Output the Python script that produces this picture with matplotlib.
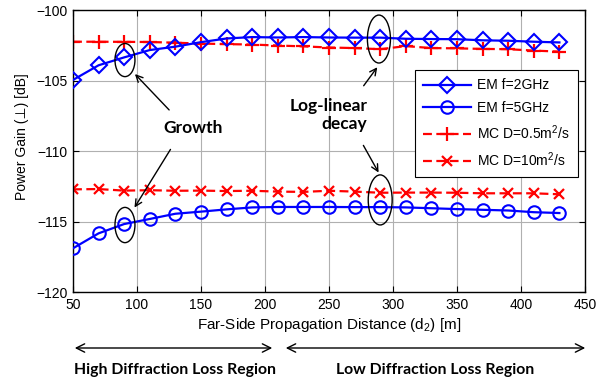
import matplotlib
matplotlib.use("Agg")
import matplotlib.pyplot as plt
from matplotlib.patches import Ellipse, FancyArrowPatch

# ---- data ----
distance = [50, 70, 90, 110, 130, 150, 170, 190, 210, 230,
            250, 270, 290, 310, 330, 350, 370, 390, 410, 430]
em_2ghz = [-104.96, -103.92, -103.36, -102.84, -102.60, -102.28, -102.02, -101.92, -101.95, -101.92,
           -101.95, -101.96, -101.96, -102.04, -102.06, -102.07, -102.15, -102.18, -102.25, -102.30]
em_5ghz = [-116.90, -115.84, -115.18, -114.82, -114.45, -114.30, -114.14, -114.00, -113.97, -113.97,
           -113.97, -113.98, -113.98, -114.00, -114.06, -114.12, -114.17, -114.22, -114.34, -114.40]
mc_d05 = [-102.25, -102.25, -102.26, -102.27, -102.32, -102.38, -102.42, -102.45, -102.52, -102.58,
          -102.66, -102.70, -102.78, -102.56, -102.70, -102.72, -102.76, -102.78, -102.88, -102.95]
mc_d10 = [-112.72, -112.70, -112.81, -112.78, -112.82, -112.81, -112.84, -112.82, -112.88, -112.90,
          -112.82, -112.88, -112.96, -112.95, -112.95, -112.96, -113.00, -113.00, -113.00, -113.07]

labels = ["EM f=2GHz", "EM f=5GHz", "MC D=0.5m$^2$/s", "MC D=10m$^2$/s"]
xticks = [50, 100, 150, 200, 250, 300, 350, 400, 450]
yticks = [-120, -115, -110, -105, -100]

plt.rcParams['font.family'] = ['Liberation Sans', 'DejaVu Sans']
plt.rcParams['mathtext.fontset'] = 'custom'
plt.rcParams['mathtext.rm'] = 'Liberation Sans'
plt.rcParams['mathtext.it'] = 'Liberation Sans'

W, H = 613, 383
fig = plt.figure(figsize=(W / 100, H / 100), dpi=100)
ax = fig.add_axes([73 / W, 1 - 292 / H, (585 - 73) / W, (292 - 10) / H])

blue = '#0000ff'
red = '#ff0000'
ax.plot(distance, em_2ghz, color=blue, lw=1.6, marker='D', ms=8, mfc='none', mew=1.5, label=labels[0], zorder=3)
ax.plot(distance, em_5ghz, color=blue, lw=1.6, marker='o', ms=9, mfc='none', mew=1.5, label=labels[1], zorder=3)
ax.plot(distance, mc_d05, color=red, lw=1.6, ls=(0, (4, 2)), marker='+', ms=10, mew=1.6, label=labels[2], zorder=2)
ax.plot(distance, mc_d10, color=red, lw=1.6, ls=(0, (4, 2)), marker='x', ms=7, mew=1.6, label=labels[3], zorder=2)

ax.set_xlim(50, 450)
ax.set_ylim(-120, -100)
ax.set_xticks(xticks)
ax.set_yticks(yticks)
ax.tick_params(direction='in', top=True, right=True, labelsize=10, length=4, width=0.8, pad=4)
ax.grid(True, color='#b0b0b0', lw=0.8)
for s in ax.spines.values():
    s.set_linewidth(1.0)

ax.set_xlabel("Far-Side Propagation Distance (d$_2$) [m]", fontsize=11, labelpad=3)
ax.set_ylabel("Power Gain (\u22a5) [dB]", fontsize=10)
ax.yaxis.set_label_coords(-0.086, 0.55)

leg = ax.legend(loc='upper right', bbox_to_anchor=(0.986, 0.787), fontsize=10,
                frameon=True, fancybox=False, edgecolor='black', framealpha=1,
                handlelength=3.4, labelspacing=0.6, borderpad=0.6, handletextpad=0.45,
                borderaxespad=0)
leg.get_frame().set_linewidth(0.8)

# annotations: ellipses
for (cx, cy, w, h) in [(90.6, -103.55, 15.6, 2.35), (90.6, -115.25, 15.6, 2.5),
                       (289.0, -102.06, 18.0, 3.4), (290.0, -113.47, 18.7, 3.55)]:
    ax.add_patch(Ellipse((cx, cy), w, h, fill=False, ec='black', lw=1.0, zorder=5))

bold_big = dict(family=['Lato', 'DejaVu Sans'], fontweight='bold', fontsize=12.5)
bold = dict(family=['Lato', 'DejaVu Sans'], fontweight='bold', fontsize=11.3)
ax.text(143.7, -108.4, "Growth", ha='center', va='center', **bold_big)
ax.text(280, -107.45, "Log-linear\ndecay", ha='right', va='center', multialignment='right',
        linespacing=1.2, **bold_big)

arr = dict(arrowstyle='->', color='black', lw=1.0, mutation_scale=12)
ax.annotate("", xy=(96.9, -104.4), xytext=(126.6, -107.23), arrowprops=arr)
ax.annotate("", xy=(96.9, -114.18), xytext=(127.3, -109.72), arrowprops=arr)
ax.annotate("", xy=(289.0, -103.9), xytext=(275.8, -105.53), arrowprops=arr)
ax.annotate("", xy=(289.8, -111.7), xytext=(275.8, -109.43), arrowprops=arr)

# region arrows below axes (figure pixels, origin bottom-left)
arr2 = dict(arrowstyle='<->', color='black', lw=1.0, mutation_scale=15)
fig.add_artist(FancyArrowPatch((72, H - 348), (275, H - 348), transform=None, **arr2))
fig.add_artist(FancyArrowPatch((283, H - 348), (588, H - 348), transform=None, **arr2))
fig.text(175 / W, 1 - 370 / H, "High Diffraction Loss Region", ha='center', va='center', **bold)
fig.text(435 / W, 1 - 370 / H, "Low Diffraction Loss Region", ha='center', va='center', **bold)

fig.savefig("out.png", dpi=100)
